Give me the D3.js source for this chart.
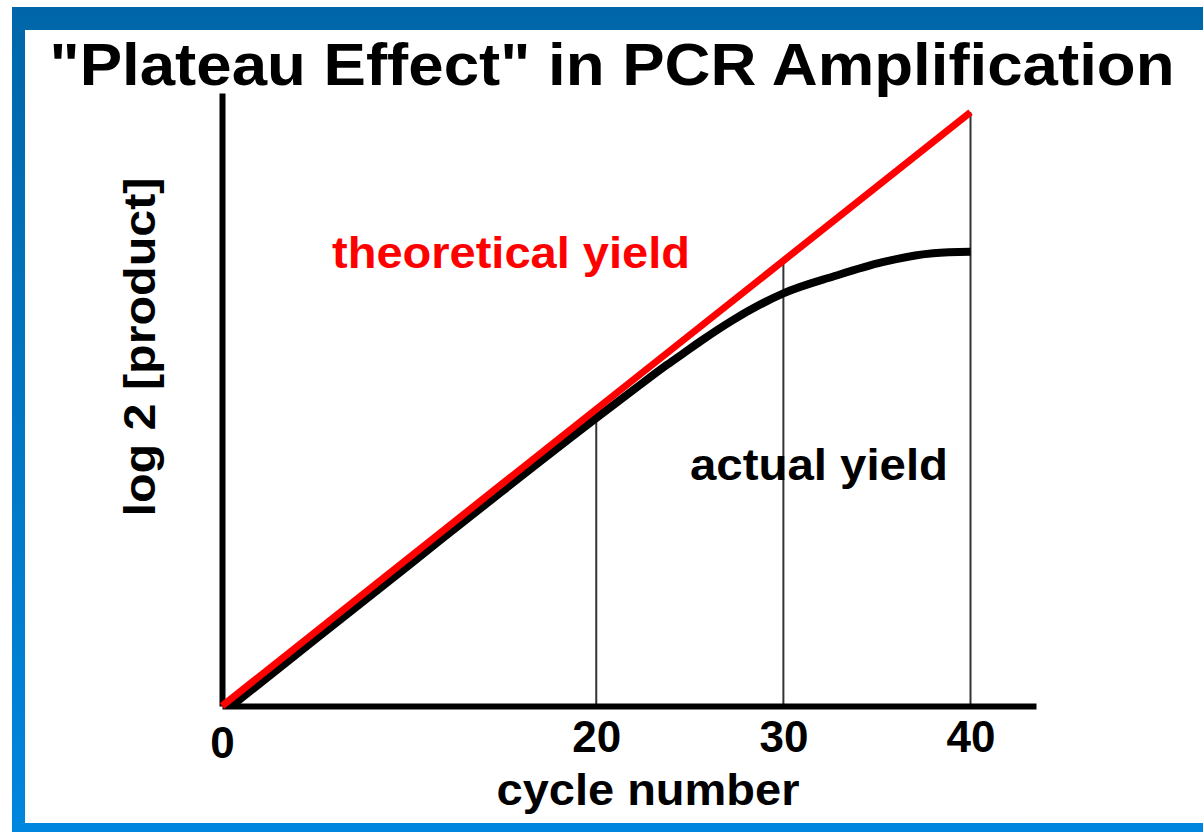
<!DOCTYPE html>
<html>
<head>
<meta charset="utf-8">
<script src="https://cdn.jsdelivr.net/npm/d3@7"></script>
<style>
  body { margin: 0; background: #fff; }
  text { font-family: "Liberation Sans", Arial, sans-serif; font-weight: bold; }
</style>
</head>
<body>
<div id="chart"></div>
<script>
// chart values
var tickCycles = [0, 20, 30, 40];
var theoryCycles = [0, 40];
var theoryYield = [0, 40];
var actualCycles = [0.5, 5, 10, 15, 20, 22.2, 23.8, 24.7, 25.6, 27.3, 30, 32.7, 35.3, 38, 40];
var actualYield = [0, 4.5, 9.5, 14.5, 19.4, 21.5, 23.0, 23.8, 24.6, 26.0, 27.8, 28.95, 29.9, 30.5, 30.6];
var markCycles = [20, 30, 40];
var markTops = [19.4, 30, 40];

var width = 1203,
    height = 832;

var svg = d3.select("#chart").append("svg")
    .attr("width", width)
    .attr("height", height);

// blue slide frame
var grad = svg.append("defs").append("linearGradient")
    .attr("id", "frame")
    .attr("x1", 0).attr("y1", 0).attr("x2", 0).attr("y2", 1);
grad.append("stop").attr("offset", "0%").attr("stop-color", "#0066a9");
grad.append("stop").attr("offset", "100%").attr("stop-color", "#0086de");

svg.append("rect")
    .attr("x", 12).attr("y", 7)
    .attr("width", width - 12).attr("height", height - 7)
    .style("fill", "url(#frame)");
svg.append("rect")
    .attr("x", 25).attr("y", 30)
    .attr("width", width - 25).attr("height", 793)
    .style("fill", "#fff");

// scales
var x = d3.scaleLinear().domain([0, 43.5]).range([222, 1036]);
var y = d3.scaleLinear().domain([0, 41.3]).range([706, 93]);

// thin drop lines at 20, 30, 40
svg.selectAll(".mark").data(markCycles)
  .enter().append("line")
    .attr("class", "mark")
    .attr("x1", function(d) { return x(d); })
    .attr("x2", function(d) { return x(d); })
    .attr("y1", y(0))
    .attr("y2", function(d, i) { return y(markTops[i]); })
    .style("stroke", "#333")
    .style("stroke-width", 2);

// axes
var xAxis = svg.append("g")
    .attr("transform", "translate(0," + y(0) + ")")
    .call(d3.axisBottom(x).tickValues(tickCycles).tickSize(0).tickPadding(0).tickFormat(d3.format("d")));
xAxis.select(".domain").style("stroke", "#000").style("stroke-width", 6);
xAxis.selectAll("text")
    .attr("dy", null)
    .attr("y", function(d) { return d === 0 ? 52 : 46; })
    .style("font-size", "44px")
    .style("fill", "#000");

var yAxis = svg.append("g")
    .attr("transform", "translate(" + x(0) + ",0)")
    .call(d3.axisLeft(y).tickValues([]).tickSizeOuter(0));
yAxis.select(".domain").style("stroke", "#000").style("stroke-width", 6);

// curves
var line = d3.line()
    .x(function(d) { return x(d[0]); })
    .y(function(d) { return y(d[1]); })
    .curve(d3.curveMonotoneX);

svg.append("path")
    .datum(d3.zip(actualCycles, actualYield))
    .attr("d", line)
    .style("fill", "none")
    .style("stroke", "#000")
    .style("stroke-width", 8);

svg.append("path")
    .datum(d3.zip(theoryCycles, theoryYield))
    .attr("d", line)
    .style("fill", "none")
    .style("stroke", "#ff0000")
    .style("stroke-width", 7);

// texts
svg.append("text")
    .attr("x", 612).attr("y", 85)
    .attr("text-anchor", "middle")
    .attr("textLength", 1125)
    .attr("lengthAdjust", "spacingAndGlyphs")
    .style("font-size", "60px")
    .text('"Plateau Effect" in PCR Amplification');

svg.append("text")
    .attr("x", 332).attr("y", 268)
    .attr("textLength", 358)
    .attr("lengthAdjust", "spacingAndGlyphs")
    .style("font-size", "45px")
    .style("fill", "#ff0000")
    .text("theoretical yield");

svg.append("text")
    .attr("x", 690).attr("y", 480)
    .attr("textLength", 258)
    .attr("lengthAdjust", "spacingAndGlyphs")
    .style("font-size", "45px")
    .text("actual yield");

svg.append("text")
    .attr("transform", "translate(155,347) rotate(-90)")
    .attr("text-anchor", "middle")
    .attr("textLength", 339)
    .attr("lengthAdjust", "spacingAndGlyphs")
    .style("font-size", "45px")
    .text("log 2 [product]");

svg.append("text")
    .attr("x", 648).attr("y", 805)
    .attr("text-anchor", "middle")
    .attr("textLength", 303)
    .attr("lengthAdjust", "spacingAndGlyphs")
    .style("font-size", "45px")
    .text("cycle number");
</script>
</body>
</html>
